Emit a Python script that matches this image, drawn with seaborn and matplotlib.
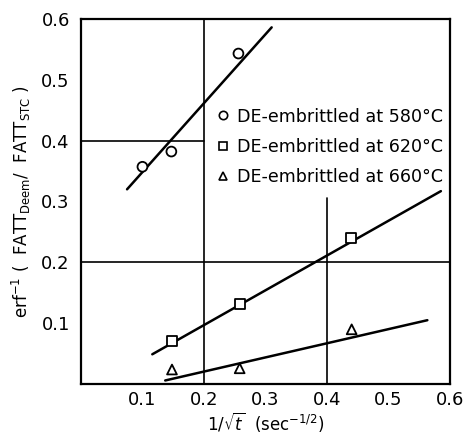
import numpy as np
import pandas as pd
import matplotlib
matplotlib.use("Agg")
import matplotlib.pyplot as plt
import seaborn as sns

# measured points (1/sqrt(t), erf^-1 ratio)
x_580 = [0.10, 0.147, 0.256]
y_580 = [0.357, 0.382, 0.543]
x_620 = [0.148, 0.258, 0.439]
y_620 = [0.071, 0.132, 0.240]
x_660 = [0.148, 0.258, 0.440]
y_660 = [0.024, 0.026, 0.090]

# fitted line end points
fit_580_x = [0.075, 0.31]
fit_580_y = [0.320, 0.586]
fit_620_x = [0.116, 0.585]
fit_620_y = [0.049, 0.317]
fit_660_x = [0.137, 0.563]
fit_660_y = [0.006, 0.105]

labels = ['DE-embrittled at 580°C', 'DE-embrittled at 620°C', 'DE-embrittled at 660°C']
markers = ['o', 's', '^']

sns.set_style("white")
plt.rcParams['font.family'] = ['DejaVu Sans']
plt.rcParams['text.color'] = 'black'
plt.rcParams['axes.labelcolor'] = 'black'

fig = plt.figure(figsize=(4.65, 4.38), dpi=100)
ax = fig.add_axes([0.174, 0.123, 0.794, 0.834])

# partial grid lines
ax.axvline(0.2, color='black', lw=1.2)
ax.axvline(0.4, ymin=0, ymax=0.305 / 0.6, color='black', lw=1.2)
ax.axhline(0.4, xmin=0, xmax=0.2 / 0.6, color='black', lw=1.2)
ax.axhline(0.2, color='black', lw=1.2)

pts = pd.DataFrame({
    'x': x_580 + x_620 + x_660,
    'y': y_580 + y_620 + y_660,
    'series': [labels[0]] * 3 + [labels[1]] * 3 + [labels[2]] * 3,
})
fits = [(fit_580_x, fit_580_y), (fit_620_x, fit_620_y), (fit_660_x, fit_660_y)]
for fx, fy in fits:
    sns.lineplot(x=fx, y=fy, ax=ax, color='black', lw=1.8, zorder=3)

sns.scatterplot(data=pts, x='x', y='y', style='series', markers=dict(zip(labels, markers)),
                ax=ax, s=50, facecolor='white', edgecolor='black', linewidth=1.3,
                zorder=4, legend=False)

handles = [plt.Line2D([], [], ls='none', marker=m, markersize=6, mfc='white', mec='black', mew=1.2)
           for m in markers]
leg = ax.legend(handles, labels, loc='upper left', bbox_to_anchor=(0.36, 0.757), frameon=False,
                fontsize=12.6, handletextpad=0.35, labelspacing=0.71, handlelength=1.0,
                borderpad=0, borderaxespad=0, labelcolor='black')

ax.set_xlim(0, 0.6)
ax.set_ylim(0, 0.6)
ticks = [0.1, 0.2, 0.3, 0.4, 0.5, 0.6]
ax.set_xticks(ticks)
ax.set_yticks(ticks)
ax.set_xticklabels(['0.1', '0.2', '0.3', '0.4', '0.5', '0.6'])
ax.set_yticklabels(['0.1', '0.2', '0.3', '0.4', '0.5', '0.6'])
ax.set_xticks([0.1, 0.3, 0.5], minor=True)
ax.set_yticks([0.1, 0.3, 0.5], minor=True)
ax.tick_params(which='major', length=0, labelsize=13, colors='black')
ax.tick_params(axis='x', which='major', pad=5)
ax.tick_params(axis='y', which='major', pad=8)
ax.tick_params(which='minor', length=8, width=1.2, direction='in', colors='black')

for s in ax.spines.values():
    s.set_color('black')
    s.set_linewidth(1.6)

ax.set_xlabel(r'$1/\sqrt{t}$  (sec$^{-1/2}$)', fontsize=12, labelpad=1)
ax.set_ylabel(r'erf$^{-1}$ (  FATT$_{\rm Deem}$/  FATT$_{\rm STC}$ )', fontsize=12, labelpad=6)

fig.savefig('out.png', dpi=100)
